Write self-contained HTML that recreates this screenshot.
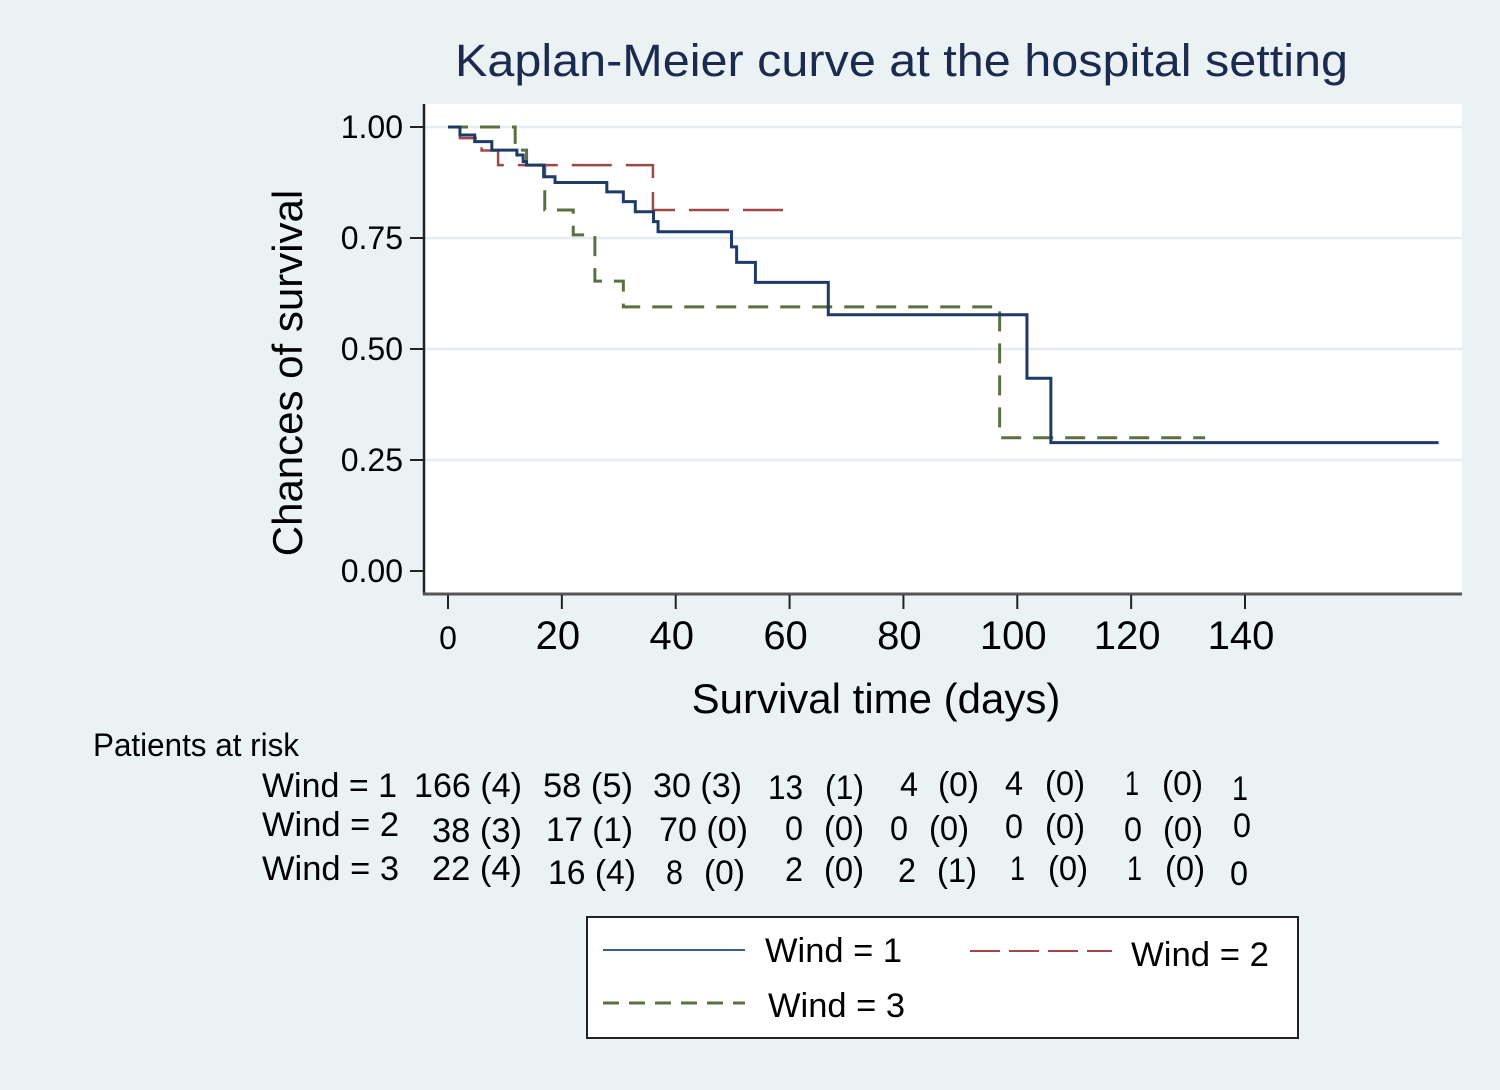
<!DOCTYPE html>
<html><head><meta charset="utf-8"><style>
body{margin:0;background:#eaf2f4;}
svg{display:block;font-family:"Liberation Sans",Arial,sans-serif;}
</style></head><body>
<svg id="chart" width="1500" height="1090" viewBox="0 0 1500 1090">
<rect x="0" y="0" width="1500" height="1090" fill="#eaf2f4"/>
<text x="455" y="76" font-size="45" fill="#1d2a50" textLength="893" lengthAdjust="spacingAndGlyphs">Kaplan-Meier curve at the hospital setting</text>
<rect x="424" y="104" width="1038" height="490" fill="#ffffff"/>
<g id="grid"></g>
<g id="series"></g>
<line x1="424" y1="104" x2="424" y2="595" stroke="#222" stroke-width="2.5"/>
<line x1="423" y1="594" x2="1462" y2="594" stroke="#555" stroke-width="3"/>
<g id="yaxis"></g>
<g id="xaxis"></g>
<text transform="translate(302,373) rotate(-90)" font-size="42" text-anchor="middle" fill="#000">Chances of survival</text>
<text x="876" y="713" font-size="42" text-anchor="middle" fill="#000">Survival time (days)</text>
<text x="93" y="756" font-size="32" fill="#000" textLength="206" lengthAdjust="spacingAndGlyphs">Patients at risk</text>
<g id="risk"></g>
<g>
<rect x="587" y="917" width="711" height="121" fill="#fff" stroke="#222" stroke-width="2"/>
<line x1="603" y1="950" x2="745" y2="950" stroke="#3a5f8f" stroke-width="2"/>
<text x="765" y="962" font-size="34" textLength="137" lengthAdjust="spacingAndGlyphs">Wind = 1</text>
<line x1="970" y1="951" x2="1112" y2="951" stroke="#a04848" stroke-width="2" stroke-dasharray="30,9"/>
<text x="1131" y="966" font-size="34" textLength="138" lengthAdjust="spacingAndGlyphs">Wind = 2</text>
<line x1="603" y1="1003" x2="745" y2="1003" stroke="#5a7040" stroke-width="3" stroke-dasharray="16,10"/>
<text x="768" y="1017" font-size="34" textLength="137" lengthAdjust="spacingAndGlyphs">Wind = 3</text>
</g>
</svg>
<script>
const NS="http://www.w3.org/2000/svg";
const yTicks=[0,0.25,0.5,0.75,1.0];
const yTickLabels=["0.00","0.25","0.50","0.75","1.00"];
const xTicks=[0,20,40,60,80,100,120,140];
const xTickLabels=["0","20","40","60","80","100","120","140"];
const w1Times=[0,2.1,4.7,7.7,12.1,13.2,13.8,16.8,18.8,27.9,30.8,32.9,36.1,36.9,49.8,50.7,54,66.8,101.7,105.9,174];
const w1Surv=[1,0.982,0.967,0.948,0.937,0.922,0.914,0.888,0.875,0.854,0.832,0.809,0.787,0.764,0.730,0.695,0.650,0.577,0.434,0.289,0.289];
const w2Times=[0,2.1,5.9,8.8,36,58.9];
const w2Surv=[1,0.975,0.947,0.914,0.813,0.813];
const w3Times=[0,11.8,13.8,17,22,25.8,30.8,96.9,133];
const w3Surv=[1,0.948,0.914,0.813,0.757,0.653,0.595,0.30,0.30];
function X(t){return 448+t*(1245-448)/140;}
function Y(s){return 571-s*(571-127);}
const grid=document.getElementById('grid'),ya=document.getElementById('yaxis'),xa=document.getElementById('xaxis'),ser=document.getElementById('series');
function mk(tag,attrs,parent){const e=document.createElementNS(NS,tag);for(const k in attrs)e.setAttribute(k,attrs[k]);parent.appendChild(e);return e;}
yTicks.forEach((v,i)=>{
  if(v>0){const g=mk('line',{x1:425,x2:1462,y1:Y(v),y2:Y(v),stroke:'#e4edf0','stroke-width':2.5},grid);
  
  }
  const t=mk('line',{x1:410,x2:424,y1:Y(v),y2:Y(v),stroke:'#222','stroke-width':2},ya);
  
  
  const l=mk('text',{x:403,y:Y(v)+11,'font-size':32,'text-anchor':'end'},ya);l.textContent=yTickLabels[i];
  
  
});
xTicks.forEach((v,i)=>{
  const t=mk('line',{x1:X(v),x2:X(v),y1:595,y2:609,stroke:'#222','stroke-width':2},xa);
  
  
  const l=mk('text',{x:X(v)+(v===0?0:-4),y:649,'font-size':v===0?32:40,'text-anchor':'middle'},xa);l.textContent=xTickLabels[i];
  
  
});
function stepPath(ts,ss){let d='M'+X(ts[0])+','+Y(ss[0]);for(let i=1;i<ts.length;i++){d+=' H'+X(ts[i])+' V'+Y(ss[i]);}return d;}
const p3=mk('path',{d:stepPath(w3Times,w3Surv),fill:'none',stroke:'#5a7040','stroke-width':3,'stroke-dasharray':'20,12'},ser);


const p2=mk('path',{d:stepPath(w2Times,w2Surv),fill:'none',stroke:'#a04848','stroke-width':2.5,'stroke-dasharray':'40,14'},ser);


const p1=mk('path',{d:stepPath(w1Times,w1Surv),fill:'none',stroke:'#1e3a66','stroke-width':3},ser);


const riskRows=[
 [["Wind = 1",262,797,135],["166 (4)",414,797,108],["58 (5)",543,797,90],["30 (3)",653,797,89],["13",768,799,35],["(1)",825,799,39],["4",900,796,18],["(0)",938,796,41],["4",1005,795,18],["(0)",1045,795,40],["1",1125,795,14],["(0)",1162,795,41],["1",1232,800,16]],
 [["Wind = 2",262,836,137],["38 (3)",432,842,90],["17 (1)",546,841,87],["70 (0)",659,841,89],["0",785,840,18],["(0)",824,840,40],["0",890,840,18],["(0)",929,840,40],["0",1005,838,18],["(0)",1045,838,40],["0",1124,841,18],["(0)",1163,841,40],["0",1233,837,18]],
 [["Wind = 3",262,880,137],["22 (4)",432,880,90],["16 (4)",548,884,88],["8",666,884,17],["(0)",704,884,41],["2",785,881,18],["(0)",824,881,40],["2",898,882,18],["(1)",937,882,40],["1",1010,880,15],["(0)",1048,880,40],["1",1127,880,15],["(0)",1165,880,40],["0",1230,885,18]]
];
const risk=document.getElementById('risk');
riskRows.forEach(row=>row.forEach(c=>{
  const t=mk('text',{x:c[1],y:c[2],'font-size':34,textLength:c[3],lengthAdjust:'spacingAndGlyphs'},risk);t.textContent=c[0];
  
  
}));
</script>
</body></html>
